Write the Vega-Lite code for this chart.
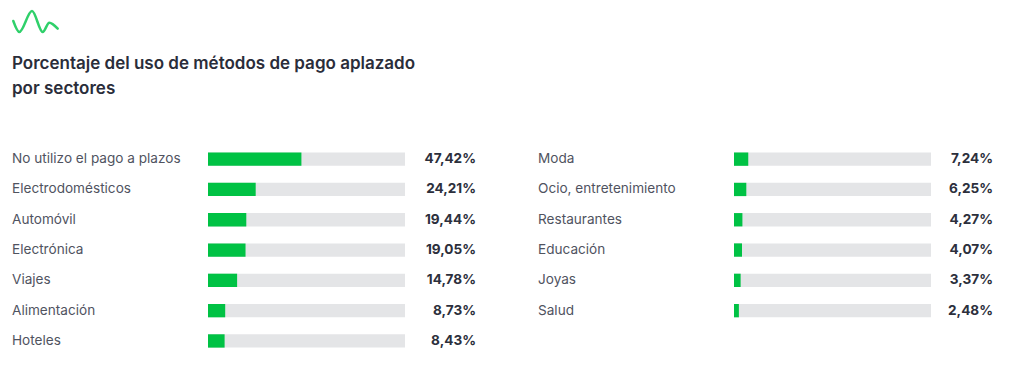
{
  "$schema": "https://vega.github.io/schema/vega-lite/v6.json",
  "padding": {"left": 8, "top": 6, "right": 0, "bottom": 0},
  "background": "white",
  "config": {
    "font": "Inter",
    "view": {"stroke": null},
    "locale": {"number": {"decimal": ",", "thousands": ".", "grouping": [3], "currency": ["", " €"]}}
  },
  "datasets": {
    "logo": [
      {"x": 12.3, "y": 20},
      {"x": 18.3, "y": 31},
      {"x": 31, "y": 10},
      {"x": 41.7, "y": 31},
      {"x": 48.3, "y": 21.7},
      {"x": 56.7, "y": 27.7}
    ],
    "sectores": [
      {"col": 1, "sector": "No utilizo el pago a plazos", "share": 0.4742},
      {"col": 1, "sector": "Electrodomésticos", "share": 0.2421},
      {"col": 1, "sector": "Automóvil", "share": 0.1944},
      {"col": 1, "sector": "Electrónica", "share": 0.1905},
      {"col": 1, "sector": "Viajes", "share": 0.1478},
      {"col": 1, "sector": "Alimentación", "share": 0.0873},
      {"col": 1, "sector": "Hoteles", "share": 0.0843},
      {"col": 2, "sector": "Moda", "share": 0.0724},
      {"col": 2, "sector": "Ocio, entretenimiento", "share": 0.0625},
      {"col": 2, "sector": "Restaurantes", "share": 0.0427},
      {"col": 2, "sector": "Educación", "share": 0.0407},
      {"col": 2, "sector": "Joyas", "share": 0.0337},
      {"col": 2, "sector": "Salud", "share": 0.0248}
    ]
  },
  "bounds": "flush",
  "spacing": 111,
  "vconcat": [
    {
      "data": {"name": "logo"},
      "width": 46,
      "height": 23,
      "title": {
        "text": ["Porcentaje del uso de métodos de pago aplazado", "por sectores"],
        "orient": "bottom", "anchor": "start", "frame": "group", "offset": 19,
        "fontSize": 17, "fontWeight": 600, "color": "#2a2d3a", "lineHeight": 25, "baseline": "top", "font": "Inter"
      },
      "mark": {"type": "line", "interpolate": "monotone", "color": "#2fd06a", "strokeWidth": 2.5, "strokeCap": "round"},
      "encoding": {
        "x": {"field": "x", "type": "quantitative", "scale": {"domain": [11, 57], "nice": false, "zero": false}, "axis": null},
        "y": {"field": "y", "type": "quantitative", "scale": {"domain": [9, 32], "reverse": true, "nice": false, "zero": false}, "axis": null},
        "order": {"field": "x"}
      }
    },
    {
      "data": {"name": "sectores"},
      "bounds": "flush",
      "spacing": 133,
      "hconcat": [
        {
          "transform": [{"filter": "datum.col == 1"}],
          "width": 63,
          "height": {"step": 30.3},
          "mark": {"type": "text", "align": "left", "baseline": "middle", "fontSize": 13.6, "color": "#50535f", "font": "Inter"},
          "encoding": {
            "y": {"field": "sector", "type": "nominal", "sort": null, "scale": {"type": "band", "paddingInner": 0.56, "paddingOuter": 0.28}, "axis": null},
            "x": {"datum": 0, "type": "quantitative", "scale": {"domain": [0, 1]}, "axis": null},
            "text": {"field": "sector", "type": "nominal"}
          }
        },
        {
          "transform": [{"filter": "datum.col == 1"}],
          "width": 197,
          "height": {"step": 30.3},
          "encoding": {
            "y": {"field": "sector", "type": "nominal", "sort": null, "scale": {"type": "band", "paddingInner": 0.56, "paddingOuter": 0.28}, "axis": null}
          },
          "layer": [
            {"mark": {"type": "bar", "color": "#e4e5e7"}, "encoding": {"x": {"datum": 1, "type": "quantitative", "scale": {"domain": [0, 1]}, "axis": null}}},
            {"mark": {"type": "bar", "color": "#00c244"}, "encoding": {"x": {"field": "share", "type": "quantitative"}}},
            {"mark": {"type": "text", "align": "right", "baseline": "middle", "dx": 71, "fontSize": 13.6, "fontWeight": 700, "color": "#2c2f3c", "font": "Inter"},
              "encoding": {"x": {"datum": 1, "type": "quantitative"}, "text": {"field": "share", "type": "quantitative", "format": ".2%"}}}
          ]
        },
        {
          "transform": [{"filter": "datum.col == 2"}],
          "width": 63,
          "height": {"step": 30.3},
          "mark": {"type": "text", "align": "left", "baseline": "middle", "fontSize": 13.6, "color": "#50535f", "font": "Inter"},
          "encoding": {
            "y": {"field": "sector", "type": "nominal", "sort": null, "scale": {"type": "band", "paddingInner": 0.56, "paddingOuter": 0.28}, "axis": null},
            "x": {"datum": 0, "type": "quantitative", "scale": {"domain": [0, 1]}, "axis": null},
            "text": {"field": "sector", "type": "nominal"}
          }
        },
        {
          "transform": [{"filter": "datum.col == 2"}],
          "width": 197,
          "height": {"step": 30.3},
          "encoding": {
            "y": {"field": "sector", "type": "nominal", "sort": null, "scale": {"type": "band", "paddingInner": 0.56, "paddingOuter": 0.28}, "axis": null}
          },
          "layer": [
            {"mark": {"type": "bar", "color": "#e4e5e7"}, "encoding": {"x": {"datum": 1, "type": "quantitative", "scale": {"domain": [0, 1]}, "axis": null}}},
            {"mark": {"type": "bar", "color": "#00c244"}, "encoding": {"x": {"field": "share", "type": "quantitative"}}},
            {"mark": {"type": "text", "align": "right", "baseline": "middle", "dx": 62, "fontSize": 13.6, "fontWeight": 700, "color": "#2c2f3c", "font": "Inter"},
              "encoding": {"x": {"datum": 1, "type": "quantitative"}, "text": {"field": "share", "type": "quantitative", "format": ".2%"}}}
          ]
        }
      ]
    }
  ]
}
